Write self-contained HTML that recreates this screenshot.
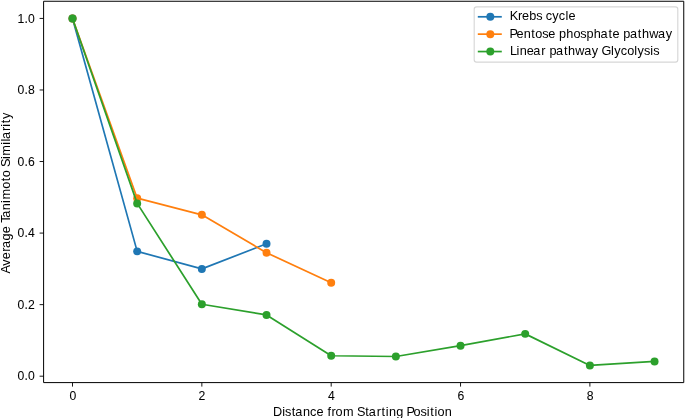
<!DOCTYPE html>
<html><head><meta charset="utf-8"><title>Average Tanimoto Similarity</title><style>
html,body{margin:0;padding:0;background:#fff;}
body{width:685px;height:418px;overflow:hidden;}
svg{display:block;will-change:transform;}
text{font-family:"Liberation Sans",sans-serif;fill:#000;}
</style></head><body>
<svg width="685" height="418" viewBox="0 0 685 418">
<rect x="0" y="0" width="685" height="418" fill="#fff"/>
<polyline points="72.51,18.43 137.18,251.37 201.85,268.90 266.53,243.78" fill="none" stroke="#1f77b4" stroke-width="1.71" stroke-linejoin="round"/>
<circle cx="72.51" cy="18.43" r="3.99" fill="#1f77b4"/>
<circle cx="137.18" cy="251.37" r="3.99" fill="#1f77b4"/>
<circle cx="201.85" cy="268.90" r="3.99" fill="#1f77b4"/>
<circle cx="266.53" cy="243.78" r="3.99" fill="#1f77b4"/>
<polyline points="72.51,18.43 137.18,198.20 201.85,214.84 266.53,252.73 331.20,282.67" fill="none" stroke="#ff7f0e" stroke-width="1.71" stroke-linejoin="round"/>
<circle cx="72.51" cy="18.43" r="3.99" fill="#ff7f0e"/>
<circle cx="137.18" cy="198.20" r="3.99" fill="#ff7f0e"/>
<circle cx="201.85" cy="214.84" r="3.99" fill="#ff7f0e"/>
<circle cx="266.53" cy="252.73" r="3.99" fill="#ff7f0e"/>
<circle cx="331.20" cy="282.67" r="3.99" fill="#ff7f0e"/>
<polyline points="72.51,18.43 137.18,203.39 201.85,304.24 266.53,314.94 331.20,355.73 395.87,356.51 460.54,345.64 525.21,333.87 589.89,365.46 654.56,361.45" fill="none" stroke="#2ca02c" stroke-width="1.71" stroke-linejoin="round"/>
<circle cx="72.51" cy="18.43" r="3.99" fill="#2ca02c"/>
<circle cx="137.18" cy="203.39" r="3.99" fill="#2ca02c"/>
<circle cx="201.85" cy="304.24" r="3.99" fill="#2ca02c"/>
<circle cx="266.53" cy="314.94" r="3.99" fill="#2ca02c"/>
<circle cx="331.20" cy="355.73" r="3.99" fill="#2ca02c"/>
<circle cx="395.87" cy="356.51" r="3.99" fill="#2ca02c"/>
<circle cx="460.54" cy="345.64" r="3.99" fill="#2ca02c"/>
<circle cx="525.21" cy="333.87" r="3.99" fill="#2ca02c"/>
<circle cx="589.89" cy="365.46" r="3.99" fill="#2ca02c"/>
<circle cx="654.56" cy="361.45" r="3.99" fill="#2ca02c"/>
<path d="M43.60,1.25H683.75V382.60H43.60Z" fill="none" stroke="#000" stroke-width="1.0" stroke-linejoin="miter"/>
<line x1="39.60" y1="376.19" x2="43.60" y2="376.19" stroke="#000" stroke-width="0.91"/>
<text transform="translate(17.35,380.49) scale(1.0,1)" x="0.14 7.13 10.73" y="0" font-size="12.2" stroke="#000" stroke-width="0.05">0.0</text>
<line x1="39.60" y1="304.64" x2="43.60" y2="304.64" stroke="#000" stroke-width="0.91"/>
<text transform="translate(17.35,308.94) scale(1.0,1)" x="0.14 7.13 10.58" y="0" font-size="12.2" stroke="#000" stroke-width="0.05">0.2</text>
<line x1="39.60" y1="233.09" x2="43.60" y2="233.09" stroke="#000" stroke-width="0.91"/>
<text transform="translate(17.35,237.39) scale(1.0,1)" x="0.14 7.13 10.73" y="0" font-size="12.2" stroke="#000" stroke-width="0.05">0.4</text>
<line x1="39.60" y1="161.53" x2="43.60" y2="161.53" stroke="#000" stroke-width="0.91"/>
<text transform="translate(17.35,165.83) scale(1.0,1)" x="0.14 7.13 10.73" y="0" font-size="12.2" stroke="#000" stroke-width="0.05">0.6</text>
<line x1="39.60" y1="89.98" x2="43.60" y2="89.98" stroke="#000" stroke-width="0.91"/>
<text transform="translate(17.35,94.28) scale(1.0,1)" x="0.14 7.13 10.73" y="0" font-size="12.2" stroke="#000" stroke-width="0.05">0.8</text>
<line x1="39.60" y1="18.43" x2="43.60" y2="18.43" stroke="#000" stroke-width="0.91"/>
<text transform="translate(17.35,22.73) scale(1.0,1)" x="0.07 7.13 10.73" y="0" font-size="12.2" stroke="#000" stroke-width="0.05">1.0</text>
<line x1="72.51" y1="382.60" x2="72.51" y2="386.60" stroke="#000" stroke-width="0.91"/>
<text transform="translate(69.28,399.60) scale(1.0,1)" x="0.14" y="0" font-size="12.2" stroke="#000" stroke-width="0.05">0</text>
<line x1="201.85" y1="382.60" x2="201.85" y2="386.60" stroke="#000" stroke-width="0.91"/>
<text transform="translate(198.62,399.60) scale(1.0,1)" x="-0.01" y="0" font-size="12.2" stroke="#000" stroke-width="0.05">2</text>
<line x1="331.20" y1="382.60" x2="331.20" y2="386.60" stroke="#000" stroke-width="0.91"/>
<text transform="translate(327.97,399.60) scale(1.0,1)" x="0.14" y="0" font-size="12.2" stroke="#000" stroke-width="0.05">4</text>
<line x1="460.54" y1="382.60" x2="460.54" y2="386.60" stroke="#000" stroke-width="0.91"/>
<text transform="translate(457.31,399.60) scale(1.0,1)" x="0.13" y="0" font-size="12.2" stroke="#000" stroke-width="0.05">6</text>
<line x1="589.89" y1="382.60" x2="589.89" y2="386.60" stroke="#000" stroke-width="0.91"/>
<text transform="translate(586.65,399.60) scale(1.0,1)" x="0.14" y="0" font-size="12.2" stroke="#000" stroke-width="0.05">8</text>
<text transform="translate(273.17,415.75) scale(1.06,1)" x="-0.15 8.53 11.27 17.45 20.84 28.05 34.65 40.79 47.50 51.26 55.13 58.91 65.88 76.19 79.08 86.90 90.29 97.80 102.26 106.27 109.22 116.02 122.92 125.75 132.45 139.01 144.94 148.20 152.20 155.02 161.80" y="0" font-size="12.0">Distance from Starting Position</text>
<text transform="translate(9.50,273.15) rotate(-90) scale(1.06,1)" x="-0.31 6.96 13.17 20.23 23.81 30.92 37.76 44.45 47.47 52.20 59.38 66.30 69.42 79.63 86.70 90.49 97.18 100.05 107.60 110.73 121.14 124.13 126.52 134.01 138.21 141.46 145.48" y="0" font-size="12.0">Average Tanimoto Similarity</text>
<rect x="474.2" y="6.9" width="203.60" height="55.20" rx="2.3" ry="2.3" fill="#fff" fill-opacity="0.8" stroke="#ccc" stroke-opacity="0.8" stroke-width="1.14"/>
<line x1="477.8" y1="16.8" x2="501.8" y2="16.8" stroke="#1f77b4" stroke-width="1.71"/>
<circle cx="490.3" cy="16.8" r="3.99" fill="#1f77b4"/>
<text transform="translate(510.00,20.15) scale(1.06,1)" x="-0.24 7.50 11.30 18.08 24.68 30.47 33.69 39.98 46.02 52.29 55.13" y="0" font-size="12.0">Krebs cycle</text>
<line x1="477.8" y1="34.15" x2="501.8" y2="34.15" stroke="#ff7f0e" stroke-width="1.71"/>
<circle cx="490.3" cy="34.15" r="3.99" fill="#ff7f0e"/>
<text transform="translate(510.00,37.60) scale(1.06,1)" x="-0.58 6.14 12.88 20.04 23.83 30.36 36.10 42.79 46.32 53.12 59.84 66.38 72.26 79.06 85.37 92.85 96.68 103.36 106.90 113.16 120.64 124.55 131.38 139.69 146.95" y="0" font-size="12.0">Pentose phosphate pathway</text>
<line x1="477.8" y1="51.55" x2="501.8" y2="51.55" stroke="#2ca02c" stroke-width="1.71"/>
<circle cx="490.3" cy="51.55" r="3.99" fill="#2ca02c"/>
<text transform="translate(510.00,54.60) scale(1.06,1)" x="-0.12 6.19 9.13 15.87 22.06 29.54 33.62 37.16 43.41 50.90 54.81 61.64 69.95 77.21 83.46 86.37 95.38 98.41 104.44 110.52 117.32 120.35 126.44 132.35 135.07" y="0" font-size="12.0">Linear pathway Glycolysis</text>
</svg>
</body></html>
